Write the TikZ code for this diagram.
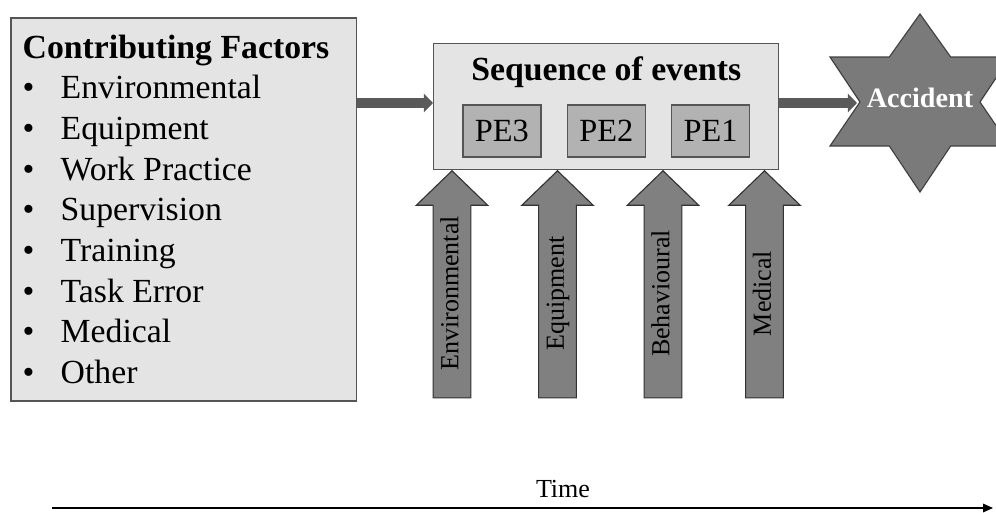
\documentclass[tikz,border=0pt]{standalone}
\usepackage{fontspec}
\setmainfont{Liberation Serif}
\usetikzlibrary{arrows.meta, positioning, shapes.arrows, calc}

\definecolor{boxgray}{HTML}{E4E4E4}
\definecolor{pegray}{HTML}{B2B2B2}
\definecolor{arrowgray}{HTML}{808080}
\definecolor{stargray}{HTML}{7A7A7A}
\definecolor{linkgray}{HTML}{5A5A5A}
\definecolor{edgegray}{HTML}{555555}

\begin{document}
\begin{tikzpicture}[
  x=0.025cm, y=-0.025cm,
  node distance=0.625cm,
  factorbox/.style={draw=edgegray, line width=1.1pt, fill=boxgray, anchor=north west,
                    align=flush left, text width=229pt, minimum height=9.575cm,
                    inner xsep=8.5pt, font=\fontsize{24}{28.9}\selectfont},
  seqbox/.style={draw=edgegray, line width=1pt, fill=boxgray, anchor=north west,
                 minimum width=8.625cm, minimum height=3.15cm},
  title/.style={font=\fontsize{24}{28}\selectfont\bfseries, anchor=base},
  pebox/.style={draw=edgegray, line width=1pt, fill=pegray, minimum width=1.95cm,
                minimum height=1.3cm, font=\fontsize{23}{27}\selectfont},
  fatarrow/.style={single arrow, draw=black!80, line width=0.8pt, fill=arrowgray,
                   rotate=90, anchor=tip, minimum height=5.675cm,
                   single arrow head extend=12pt, single arrow tip angle=92,
                   inner ysep=4.5pt, text height=13pt, text depth=4pt,
                   font=\fontsize{18.5}{20}\selectfont},
  link/.style={line width=6.5pt, draw=linkgray, -{Triangle[length=6.5pt, width=13pt]}},
  accnode/.style={text=white, font=\fontsize{20}{24}\selectfont\bfseries},
  timeline/.style={line width=1.1pt, -{Triangle[length=7pt, width=6pt]}}
]
\useasboundingbox (0,0) rectangle (996,513);
\clip (0,0) rectangle (996,513);

% contributing factors
\node[factorbox] (factors) at (10,17) {{\bfseries Contributing Factors}\\
  \makebox[27pt][l]{\textbullet}Environmental\\
  \makebox[27pt][l]{\textbullet}Equipment\\
  \makebox[27pt][l]{\textbullet}Work Practice\\
  \makebox[27pt][l]{\textbullet}Supervision\\
  \makebox[27pt][l]{\textbullet}Training\\
  \makebox[27pt][l]{\textbullet}Task Error\\
  \makebox[27pt][l]{\textbullet}Medical\\
  \makebox[27pt][l]{\textbullet}Other};

% sequence of events
\node[seqbox] (seq) at (433,43) {};
\node[title] (seqT) at ($(seq.north)+(0,37)$) {Sequence of events};
\node[pebox] (pe2) at ($(seq.north)+(0,88)$) {PE2};
\node[pebox, left=of pe2] (pe3) {PE3};
\node[pebox, right=of pe2] (pe1) {PE1};

% accident star
\fill[stargray, draw=black!75, line width=0.8pt]
  (920,14) -- (950.7,57) -- (1010,57) -- (980,102) -- (1010,146) -- (950.7,146)
  -- (920,192) -- (889.3,146) -- (830,146) -- (860,102) -- (830,57) -- (889.3,57) -- cycle;
\node[accnode] (acc) at (920,98) {Accident};
\coordinate (accL) at (857,103);
\coordinate (lane) at (0,103);

\draw[link] (factors.east |- lane) -- (seq.west |- lane);
\draw[link] (seq.east |- lane) -- (accL);

% influences
\node[fatarrow] (envA) at (452,170) {Environmental};
\node[fatarrow] (equA) at (557.5,170) {Equipment};
\node[fatarrow] (behA) at (663,170) {Behavioural};
\node[fatarrow] (medA) at (764.5,170) {Medical};

% time axis
\coordinate (t0) at (52,508);
\coordinate (t1) at (993,508);
\draw[timeline] (t0) -- (t1);
\node[font=\fontsize{18.5}{20}\selectfont] (timeL) at (563,489) {Time};
\end{tikzpicture}
\end{document}
